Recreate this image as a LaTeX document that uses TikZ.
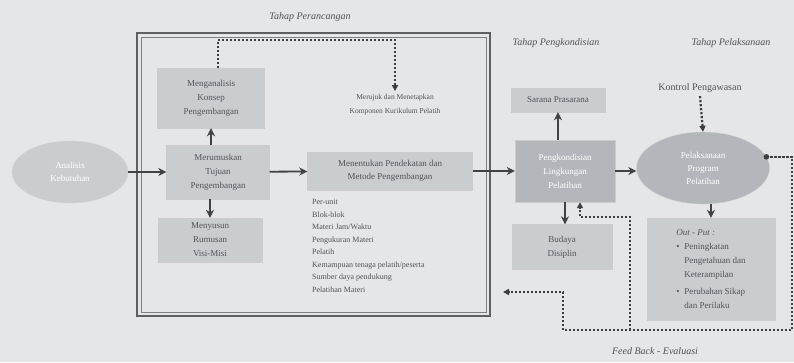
\documentclass[tikz,border=0pt]{standalone}
\usepackage{fontspec}
\setmainfont{Liberation Serif}
\usetikzlibrary{shapes.geometric,arrows.meta}

\definecolor{paper}{HTML}{E4E6E8}
\definecolor{boxfill}{HTML}{CACDD0}
\definecolor{darkfill}{HTML}{B3B7BB}
\definecolor{ink}{HTML}{505357}
\definecolor{frameline}{HTML}{5C6064}

\tikzset{
  stagebox/.style={draw=gray!40, fill=boxfill, text=ink, align=center, inner sep=2pt,
    font=\fontsize{9}{14}\selectfont},
  darkbox/.style={stagebox, fill=darkfill, text=white},
  phase/.style={text=ink, font=\fontsize{10}{12}\selectfont\itshape},
  flow/.style={-{Stealth[length=8pt,width=8pt]}, line width=1.8pt, draw=ink!80!black},
  loop/.style={line width=2.2pt, dash pattern=on 2.2pt off 1.8pt, draw=ink!75!black},
  looparrow/.style={loop, -{Triangle[length=6pt,width=6pt]}},
}

\begin{document}
\begin{tikzpicture}[x=1pt,y=-1pt]
    % Canvas
    \useasboundingbox (0,0) rectangle (794,362);
    \fill[paper] (0,0) rectangle (794,362);

    % Phase titles
    \node[phase] (tRancang) at (310,17) {Tahap Perancangan};
    \node[phase] (tKondisi) at (556,43) {Tahap Pengkondisian};
    \node[phase] (tLaksana) at (731,43) {Tahap Pelaksanaan};
    \node[phase] (tFeedback) at (655,351) {Feed Back - Evaluasi};

    % Planning frame (double line)
    \draw[frameline, line width=2pt] (137,33) rectangle (490,316);
    \draw[frameline!80, line width=1pt] (141,37) rectangle (486,312);

    % Input
    \node[ellipse, draw=gray!35, fill=boxfill, text=white, minimum width=116, minimum height=62,
      align=center, font=\fontsize{9}{13}\selectfont] (kebutuhan) at (70,172) {Analisis\\Kebutuhan};

    % Planning stage
    \node[stagebox, minimum width=107, minimum height=60] (konsep) at (211,98) {Menganalisis\\Konsep\\Pengembangan};
    \node[stagebox, minimum width=103, minimum height=54] (tujuan) at (218,172) {Merumuskan\\Tujuan\\Pengembangan};
    \node[stagebox, minimum width=104, minimum height=44] (visi) at (210,240) {Menyusun\\Rumusan\\Visi-Misi};
    \node[text=ink, align=center, font=\fontsize{7.5}{14}\selectfont] (rujuk) at (395,105) {Merujuk dan Menetapkan\\Komponen Kurikulum Pelatih};
    \node[stagebox, minimum width=165, minimum height=38, font=\fontsize{9}{13}\selectfont] (metode) at (390,171) {Menentukan Pendekatan dan\\Metode Pengembangan};
    \node[anchor=north west, text=ink, align=left, inner sep=0pt, font=\fontsize{8}{12.5}\selectfont] (daftar) at (312,199)
      {Per-unit\\Blok-blok\\Materi Jam/Waktu\\Pengukuran Materi\\Pelatih\\Kemampuan tenaga pelatih/peserta\\Sumber daya pendukung\\Pelatihan Materi};

    % Conditioning stage
    \node[stagebox, minimum width=94, minimum height=24] (sarana) at (558,100) {Sarana Prasarana};
    \node[darkbox, minimum width=100, minimum height=62] (lingkungan) at (565,171) {Pengkondisian\\Lingkungan\\Pelatihan};
    \node[stagebox, minimum width=100, minimum height=45] (budaya) at (562,247) {Budaya\\Disiplin};

    % Implementation stage
    \node[text=ink, font=\fontsize{10}{12}\selectfont] (kontrol) at (700,88) {Kontrol Pengawasan};
    \node[ellipse, draw=gray!35, fill=darkfill, text=white, minimum width=133, minimum height=72,
      align=center, font=\fontsize{9}{13}\selectfont] (program) at (703,168) {Pelaksanaan\\Program\\Pelatihan};
    \node[stagebox, minimum width=128, minimum height=102, align=left, anchor=center] (hasil) at (711,269)
      {\begin{tabular}{@{}l@{\hspace{5pt}}l@{}}
        \multicolumn{2}{@{}l}{\textit{Out - Put :}}\\
        \textbullet & Peningkatan\\
                    & Pengetahuan dan\\
                    & Keterampilan\\[3pt]
        \textbullet & Perubahan Sikap\\
                    & dan Perilaku
       \end{tabular}};

    % Main flow
    \draw[flow] (kebutuhan) -- (tujuan);
    \draw[flow] (konsep.south |- tujuan.north) -- (konsep.south);
    \draw[flow] (visi.north |- tujuan.south) -- (visi.north);
    \draw[flow] (tujuan) -- (metode);
    \draw[flow] (metode) -- (lingkungan);
    \draw[flow] (sarana.south |- lingkungan.north) -- (sarana.south);
    \draw[flow] (lingkungan.south) -- (lingkungan.south |- budaya.north);
    \draw[flow] (lingkungan.east) -- (lingkungan.east -| program.west);
    \draw[flow] (hasil.north |- program.south) -- (hasil.north);

    % Dotted links
    \coordinate (rancangTop) at (218,40);
    \draw[looparrow] (konsep.north -| rancangTop) -- (rancangTop) -| (rujuk.north);
    \draw[looparrow] (kontrol.south) -- (program.north);

    % Feedback loop
    \coordinate (fbRight) at (792,157);
    \coordinate (fbCorner) at (792,330);
    \coordinate (fbSplit) at (630,330);
    \coordinate (fbLeft) at (563,330);
    \coordinate (fbStep) at (563,292);
    \coordinate (fbEnd) at (503,292);
    \coordinate (fbTurn) at (580,217);
    \fill[ink!75!black] (program.10) circle (2.8pt);
    \draw[loop] (program.10) -- (program.10 -| fbRight) -- (fbCorner) -- (fbLeft);
    \draw[looparrow] (fbLeft) -- (fbStep) -- (fbEnd);
    \draw[looparrow] (fbSplit) |- (fbTurn) -- (fbTurn |- lingkungan.south);
\end{tikzpicture}
\end{document}
